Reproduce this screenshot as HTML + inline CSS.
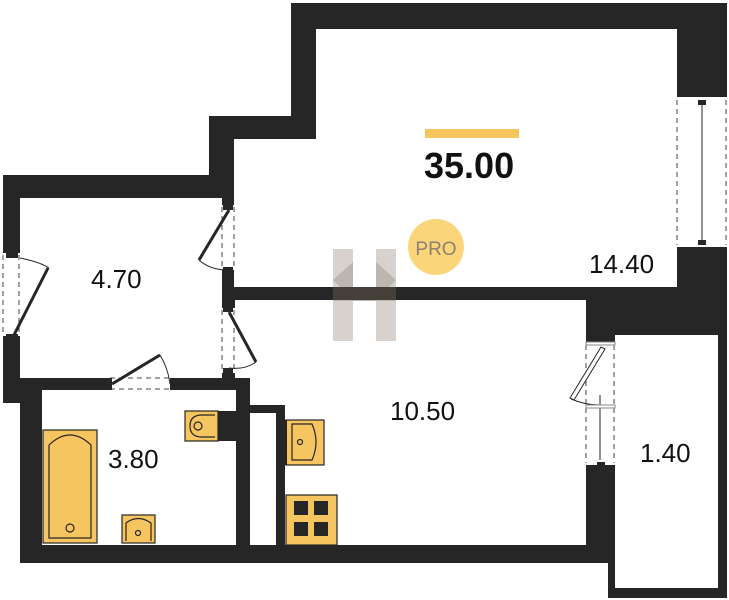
<!DOCTYPE html>
<html><head><meta charset="utf-8"><style>
html,body{margin:0;padding:0;background:#fff;width:729px;height:600px;overflow:hidden}
text{font-family:"Liberation Sans",sans-serif}
</style></head><body>
<svg width="729" height="600" viewBox="0 0 729 600" xmlns="http://www.w3.org/2000/svg">
<g fill="#262626">
<polygon points="291,3 727,3 727,598 608,598 608,563 20,563 20,403 3,403 3,175 209,175 209,116 291,116"/>
</g>
<g fill="#fff">
<polygon points="316,29 677,29 677,287 234,287 234,139 316,139"/>
<rect x="20" y="198" width="202" height="180"/>
<rect x="235" y="300" width="351" height="245"/>
<rect x="42" y="390" width="194" height="155"/>
<rect x="615" y="335" width="103" height="253"/>
<rect x="677" y="97" width="50" height="150"/>
<rect x="3" y="253" width="17" height="83"/>
<rect x="222" y="205" width="13" height="65"/>
<rect x="222" y="308" width="13" height="65"/>
<rect x="108" y="378" width="64" height="12"/>
<rect x="586" y="343" width="29" height="122"/>
<rect x="236" y="300" width="16" height="50"/>
</g>
<g fill="#262626">
<rect x="222" y="287" width="13" height="21"/>
<rect x="235" y="287" width="450" height="13"/>
<rect x="677" y="247" width="50" height="54"/>
<rect x="586" y="300" width="141" height="35"/>
<rect x="586" y="465" width="29" height="80"/>
<rect x="236" y="378" width="14" height="167"/>
<rect x="250" y="405" width="35" height="8"/>
<rect x="276" y="405" width="9" height="140"/>
<rect x="250" y="545" width="360" height="18"/>
<rect x="3" y="378" width="105" height="12"/>
<rect x="172" y="378" width="78" height="12"/>
</g>
<g stroke="#444" stroke-width="1" stroke-dasharray="5,4" fill="none">
<line x1="3" y1="255" x2="3" y2="335"/><line x1="19" y1="255" x2="19" y2="335"/>
<line x1="222" y1="207" x2="222" y2="268"/><line x1="234" y1="207" x2="234" y2="268"/>
<line x1="222" y1="310" x2="222" y2="371"/><line x1="234" y1="310" x2="234" y2="371"/>
<line x1="110" y1="378" x2="170" y2="378"/><line x1="110" y1="389" x2="170" y2="389"/>
<line x1="677" y1="100" x2="677" y2="245"/><line x1="726" y1="100" x2="726" y2="245"/>
<line x1="586" y1="345" x2="586" y2="463"/><line x1="614" y1="345" x2="614" y2="463"/>
</g>
<g stroke="#262626" fill="none">
<line x1="14" y1="335" x2="48" y2="268" stroke-width="3"/>
<path d="M20,258 Q40,262 49,268" stroke-width="1"/>
<line x1="229" y1="210" x2="199" y2="260" stroke-width="3"/>
<path d="M199,260 Q210,270 228,270" stroke-width="1"/>
<line x1="229" y1="312" x2="256" y2="362" stroke-width="3"/>
<path d="M256,362 Q245,370 229,368" stroke-width="1"/>
<line x1="112" y1="384" x2="160" y2="355" stroke-width="3"/>
<path d="M160,355 Q168,368 170,384" stroke-width="1"/>
<line x1="702" y1="100" x2="702" y2="245" stroke-width="1"/>
<line x1="600" y1="395" x2="600" y2="460" stroke-width="1"/>
<path d="M601,347 L570,398 L574,400 L605,349 Z" stroke-width="1" fill="#fff"/>
<path d="M571,399 Q585,405 600,405" stroke-width="1"/>
</g>
<g fill="#262626">
<rect x="6" y="252" width="12" height="6"/><rect x="6" y="334" width="12" height="6"/>
<rect x="223" y="204" width="10" height="6"/><rect x="223" y="267" width="10" height="6"/>
<rect x="223" y="306" width="10" height="6"/><rect x="223" y="368" width="10" height="6"/>
<rect x="107" y="378" width="5" height="12"/><rect x="170" y="378" width="5" height="12"/>
<rect x="698" y="100" width="8" height="5"/><rect x="698" y="240" width="8" height="5"/>
<rect x="597" y="462" width="8" height="5"/>
</g>
<g stroke="#888" stroke-width="1" fill="#fff">
<rect x="586" y="342" width="29" height="3"/><rect x="586" y="405" width="29" height="3"/>
</g>
<g fill="#f7c55f" stroke="#262626" stroke-width="1.2">
<rect x="43" y="430" width="54" height="113"/>
<path d="M49,538 L49,445 Q70,425 91,445 L91,538 Z" fill="none"/>
<circle cx="70" cy="528" r="4" fill="none"/>
<rect x="185" y="411" width="33" height="30"/>
<path d="M215,415 L202,415 Q190,415 190,426 Q190,437 202,437 L215,437" fill="none"/>
<circle cx="198" cy="426" r="4" fill="none"/>
<rect x="122" y="515" width="33" height="28"/>
<path d="M126,541 L126,523 Q138,514 151,523 L151,541" fill="none"/>
<circle cx="138" cy="533" r="2.5" fill="none"/>
<rect x="286" y="420" width="38" height="45"/>
<path d="M292,424 L312,424 Q320,442 312,460 L292,460 Z" fill="none"/>
<circle cx="300" cy="442" r="2.5" fill="none"/>
<rect x="286" y="495" width="51" height="50"/>
</g>
<rect x="218" y="411" width="18" height="30" fill="#262626"/>
<rect x="283" y="420" width="4" height="45" fill="#262626"/>
<g fill="#262626">
<rect x="294" y="501" width="14" height="14"/><rect x="314" y="501" width="14" height="14"/>
<rect x="294" y="522" width="14" height="14"/><rect x="314" y="522" width="14" height="14"/>
</g>
<g opacity="0.45">
<rect x="333" y="249" width="20" height="92" fill="#a79d92"/>
<rect x="376" y="249" width="20" height="92" fill="#a79d92"/>
<rect x="333" y="287" width="63" height="14" fill="#6b5e52"/>
<polygon points="333,280 353,262 353,300" fill="#6b5e52"/>
<polygon points="396,280 376,262 376,300" fill="#6b5e52"/>
</g>
<rect x="425" y="129" width="94" height="9" fill="#f7c55f"/>
<text x="424" y="178" font-size="36" font-weight="bold" fill="#111">35.00</text>
<circle cx="436" cy="247" r="28" fill="#fbd57a"/>
<text x="436" y="255" font-size="19" fill="#8a8172" text-anchor="middle">PRO</text>
<g font-size="26" fill="#111">
<text x="91" y="288">4.70</text>
<text x="589" y="273">14.40</text>
<text x="390" y="420">10.50</text>
<text x="108" y="468">3.80</text>
<text x="640" y="462">1.40</text>
</g>
</svg>
</body></html>
